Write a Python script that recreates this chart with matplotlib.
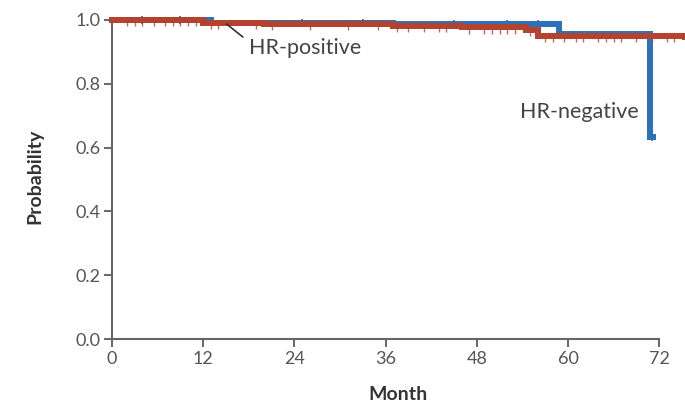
import numpy as np
import matplotlib
matplotlib.use("Agg")
import matplotlib.pyplot as plt

plt.rcParams['font.family'] = ['Lato', 'DejaVu Sans']

# Kaplan-Meier step data (event time in months, survival probability after it)
pos_times = [0, 12, 20, 37, 46, 54.5, 56, 75.4]
pos_surv = [1.0, 0.991, 0.988, 0.981, 0.977, 0.970, 0.950, 0.948]
neg_times = [0, 13, 37, 58.8, 70.8, 71.2]
neg_surv = [1.0, 0.991, 0.986, 0.956, 0.633, 0.633]

# censoring times
pos_censor = [2, 3, 4, 5.5, 7, 8, 9, 10, 11, 13, 14, 19, 21, 26, 31, 35, 37.5, 39,
              41, 43, 44, 47, 49, 50, 51, 52, 53, 55, 57, 58, 59.5, 61, 62, 64,
              65, 66, 67, 69, 71, 73, 74]
neg_censor = [4, 9, 25, 33, 45, 52, 56, 71.0]

xticks = [0, 12, 24, 36, 48, 60, 72]
yticks = [0.0, 0.2, 0.4, 0.6, 0.8, 1.0]

RED = "#b3432e"
BLUE = "#2c72b8"
GRAY = "#555555"


def surv_at(times, surv, t):
    idx = np.searchsorted(times, t, side="right") - 1
    return np.asarray(surv)[idx]


fig = plt.figure(figsize=(6.85, 4.04), dpi=100)
ax = fig.add_axes([112 / 685, 65 / 404, 573 / 685, 325.4 / 404])

ax.step(neg_times, neg_surv, where="post", color=BLUE, lw=4.3,
        solid_joinstyle="miter", zorder=3, clip_on=False)
ax.plot(neg_censor, surv_at(neg_times, neg_surv, neg_censor), ls="none",
        marker="|", ms=6, mew=1.3, color=BLUE, zorder=3, clip_on=False)

ax.step(pos_times, pos_surv, where="post", color=RED, lw=4.3,
        solid_joinstyle="miter", zorder=4, clip_on=False)
ax.plot(pos_censor, surv_at(pos_times, pos_surv, pos_censor) - 0.01, ls="none",
        marker="|", ms=5, mew=1.0, color=RED, alpha=0.8, zorder=4, clip_on=False)

ax.set_xlim(0, 75.4)
ax.set_ylim(0, 1.02)
ax.set_xticks(xticks)
ax.set_yticks(yticks)
ax.set_yticklabels([f"{v:.1f}" for v in yticks])

for side in ("top", "right"):
    ax.spines[side].set_visible(False)
for side in ("left", "bottom"):
    ax.spines[side].set_color("#666666")
    ax.spines[side].set_linewidth(1.5)
ax.spines["bottom"].set_bounds(0, 72)
ax.spines["left"].set_bounds(0, 1.0)

ax.tick_params(axis="both", colors="#666666", width=1.4, length=6,
               labelsize=13, labelcolor=GRAY)
ax.tick_params(axis="x", pad=3)
ax.tick_params(axis="y", pad=2)

ax.set_xlabel("Month", fontsize=14, fontweight="bold", color="#333333", labelpad=13)
ax.set_ylabel("Probability", fontsize=14, fontweight="bold", color="#333333", labelpad=23)

ax.plot([15.1, 17.2], [0.987, 0.947], color="#333333", lw=1.2, zorder=5)
ax.text(18.0, 0.913, "HR-positive", fontsize=15.5, color="#444444",
        ha="left", va="center")
ax.text(69.3, 0.712, "HR-negative", fontsize=15.5, color="#444444",
        ha="right", va="center")

fig.savefig("out.png", dpi=100)
